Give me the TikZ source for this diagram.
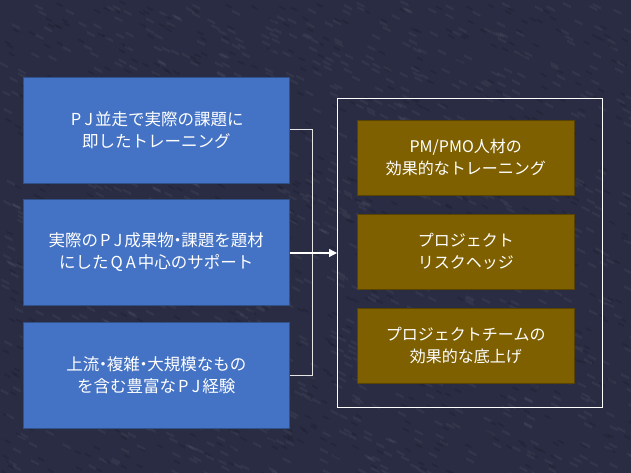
\documentclass[tikz,border=0pt]{standalone}
\usepackage{fontspec}
\setmainfont{Noto Sans CJK JP}
\usetikzlibrary{arrows.meta}
\definecolor{bgnavy}{HTML}{292C42}
\definecolor{boxblue}{HTML}{4472C4}
\definecolor{boxbrown}{HTML}{7F6000}
\newcommand{\nakag}{\kern-4.5pt・\kern-4.5pt}
\newcommand{\wideab}[2]{\kern2pt#1\kern3pt#2\kern2pt}
\tikzset{
  srcbox/.style={fill=boxblue, draw=boxblue!70!black, line width=0.5pt, minimum width=266pt, minimum height=106pt, anchor=north west, text=white, align=center, font=\fontsize{16.5}{22}\selectfont, inner sep=0pt},
  resbox/.style={fill=boxbrown, draw=boxbrown!70!black, line width=0.5pt, minimum width=217pt, minimum height=75pt, anchor=north west, text=white, align=center, font=\fontsize{16}{22}\selectfont, inner sep=0pt},
  brace/.style={draw=white!80!gray, line width=1pt},
  frame/.style={draw=white, line width=1.2pt}
}
\begin{document}
\begin{tikzpicture}[x=1pt,y=-1pt]
\fill[bgnavy] (0,0) rectangle (631,473);
\useasboundingbox (0,0) rectangle (631,473);
\pgfmathsetseed{7}
\foreach \i in {1,...,1100} {
  \pgfmathsetmacro{\xx}{rnd*631}
  \pgfmathsetmacro{\yy}{rnd*473}
  \fill[white, opacity=0.05] (\xx,\yy) -- ++(8,4) -- ++(0,2.5) -- ++(-8,-4) -- cycle;
}
\foreach \i in {1,...,700} {
  \pgfmathsetmacro{\xx}{rnd*631}
  \pgfmathsetmacro{\yy}{rnd*473}
  \fill[black, opacity=0.10] (\xx,\yy) -- ++(6,3) -- ++(0,2) -- ++(-6,-3) -- cycle;
}
\node[srcbox] (s1) at (23,77) {\wideab PJ並走で実際の課題に\\即したトレーニング};
\node[srcbox] (s2) at (23,199) {実際の\wideab PJ成果物\nakag 課題を題材\\にした\wideab QA中心のサポート};
\node[srcbox] (s3) at (23,322) {上流\nakag 複雑\nakag 大規模なもの\\を含む豊富な\wideab PJ経験};
\node[frame, minimum width=265pt, minimum height=309pt, anchor=north west, inner sep=0pt] (fr) at (337,98) {};
\node[resbox] (r1) at (357,120) {PM/PMO人材の\\効果的なトレーニング};
\node[resbox] (r2) at (357,214) {プロジェクト\\リスクヘッジ};
\node[resbox] (r3) at (357,308) {プロジェクトチームの\\効果的な底上げ};
\draw[brace] (s1.east |- 0,130) -| (312,375) -- (s3.east |- 0,375);
\draw[draw=white, line width=1.2pt, -{Triangle[length=8pt,width=8pt]}] (s2.east |- 0,253) -- (fr.west |- 0,253);
\end{tikzpicture}
\end{document}
